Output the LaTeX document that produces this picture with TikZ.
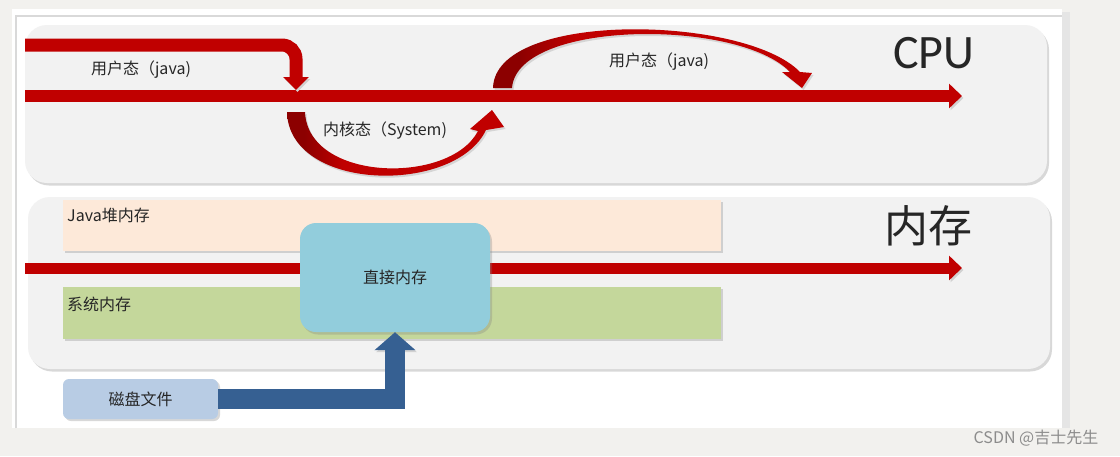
\documentclass[tikz,border=0pt]{standalone}
\usepackage{fontspec}
\setmainfont{Noto Sans CJK SC}
\newfontfamily\cpufont{Carlito}
\usetikzlibrary{arrows.meta,shadows}
\definecolor{cpured}{RGB}{192,0,0}
\definecolor{arrdark}{RGB}{140,0,0}
\definecolor{panelgray}{RGB}{242,242,242}
\definecolor{pagegray}{RGB}{242,241,238}
\definecolor{heapcol}{RGB}{253,233,217}
\definecolor{syscol}{RGB}{196,215,155}
\definecolor{directcol}{RGB}{146,205,220}
\definecolor{diskcol}{RGB}{184,204,228}
\definecolor{diskblue}{RGB}{54,96,146}
\definecolor{txtgray}{RGB}{38,38,38}
\pgfdeclarehorizontalshading{redfade}{100bp}{color(0bp)=(arrdark); color(25bp)=(arrdark);
  color(29bp)=(arrdark); color(38bp)=(cpured); color(75bp)=(cpured); color(100bp)=(cpured)}

\begin{document}
\begin{tikzpicture}[x=1pt,y=-1pt,
  panel/.style={fill=panelgray,rounded corners=22pt,inner sep=0,minimum width=1022pt,
    drop shadow={shadow xshift=2pt,shadow yshift=-2.5pt,opacity=0.3}},
  band/.style={inner sep=0,minimum width=658pt,
    drop shadow={shadow xshift=2pt,shadow yshift=-2pt,opacity=0.3}},
  lab/.style={font=\fontsize{16}{19}\selectfont,text=txtgray,inner sep=0},
  redline/.style={draw=cpured,line width=12pt,-{Triangle[width=24pt,length=13pt]},
    preaction={draw=black!18,transform canvas={shift={(1.5pt,-2pt)}}}},
  curvearrow/.style={shade,shading=redfade,
    drop shadow={shadow xshift=1.5pt,shadow yshift=-2pt,opacity=0.25}},
  diskarrow/.style={draw=diskblue,line width=20pt,line join=miter,
    -{Triangle[width=40pt,length=18pt]},
    preaction={draw=black!18,transform canvas={shift={(1.5pt,-2pt)}}}}
]
  \useasboundingbox (0,0) rectangle (1120,456);
  \fill[pagegray] (0,0) rectangle (1120,456);
  \fill[white] (12,9) rectangle (1062,428);
  \fill[black!10] (1062,12) rectangle (1070,428);
  \draw[black!15,line width=1.2pt] (16,428) -- (16,16) -- (1062,16);

  % CPU
  \node[panel,minimum height=158pt] (cpu) at (536,104) {};
  \node[font=\cpufont\fontsize{48}{52}\selectfont,text=txtgray,inner sep=0,anchor=base] (cputxt) at (934,68) {CPU};
  \coordinate (a1) at (25,96);
  \coordinate (a2) at (962,96);
  \coordinate (b1) at (25,45);
  \coordinate (b2) at (296,90);
  \draw[redline] (a1) -- (a2);
  \draw[redline,line width=13pt,-{Triangle[width=25pt,length=13pt]},rounded corners=14pt] (b1) -| (b2);
  \path[curvearrow] (287,112) .. controls (289,192) and (455,195) .. (486,130)
    -- (504,127) -- (492,110) -- (470,129) -- (478,131)
    .. controls (450,185) and (308,182) .. (305,112) -- cycle;
  \path[curvearrow] (493,88) .. controls (495,10) and (745,15) .. (800,72)
    -- (812,73) -- (802,88) -- (782,72) -- (790,72)
    .. controls (738,18) and (517,20) .. (512,88) -- cycle;
  \node[lab] (user1) at (141,70) {用户态（java)};
  \node[lab] (kernel) at (385,131) {内核态（System)};
  \node[lab] (user2) at (659,62) {用户态（java)};

  % memory
  \node[panel,minimum height=172pt] (mem) at (539,283) {};
  \node[font=\fontsize{44}{50}\selectfont,text=txtgray,inner sep=0] (memtxt) at (928,226) {内存};
  \node[band,fill=heapcol,minimum height=51pt] (heap) at (392,225.5) {};
  \node[band,fill=syscol,minimum height=52pt] (sys) at (392,313) {};
  \node[lab,anchor=west] (heaptxt) at (67,215) {Java堆内存};
  \node[lab,anchor=west] (systxt) at (67,304) {系统内存};
  \coordinate (m1) at (25,268);
  \coordinate (m2) at (962,268);
  \draw[redline,line width=11pt] (m1) -- (m2);
  \node[lab,fill=directcol,rounded corners=16pt,minimum width=190pt,minimum height=109pt,
    drop shadow={shadow xshift=2pt,shadow yshift=-2.5pt,opacity=0.3}] (direct) at (395,277.5) {直接内存};

  % disk
  \node[lab,fill=diskcol,rounded corners=6pt,minimum width=155pt,minimum height=40pt,
    drop shadow={shadow xshift=2pt,shadow yshift=-2pt,opacity=0.3}] (disk) at (140.5,399) {磁盘文件};
  \draw[diskarrow] (disk.east) -| (direct.south);

  \node[font=\fontsize{16}{19}\selectfont,text=black!45,inner sep=0] (wm) at (1036,438) {CSDN @吉士先生};
\end{tikzpicture}
\end{document}
